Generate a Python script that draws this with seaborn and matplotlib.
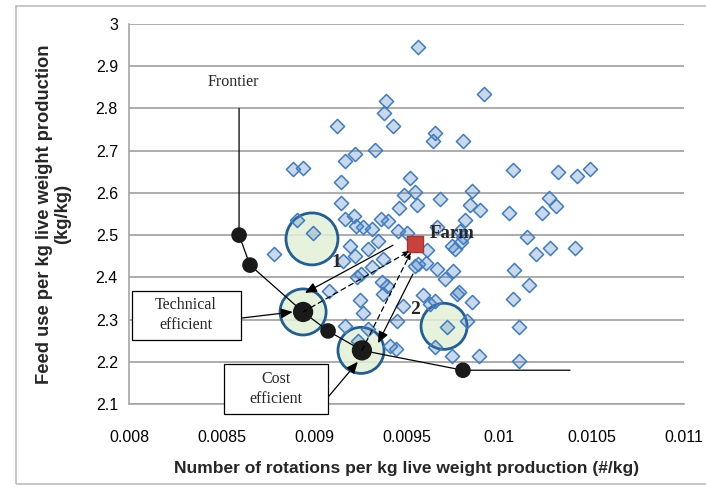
import matplotlib
matplotlib.use("Agg")
import matplotlib.pyplot as plt
import seaborn as sns
import pandas as pd
from matplotlib.patches import Rectangle

# farms: rotations per kg live weight vs feed use per kg live weight
rot_x = [
    0.009562, 0.009919, 0.009389, 0.009378, 0.009124, 0.009427, 0.009654, 0.009643,
    0.009805, 0.009330, 0.009222, 0.009168, 0.010076, 0.009519, 0.009146, 0.009854,
    0.009486, 0.009546, 0.009681, 0.009146, 0.009557, 0.009843, 0.009459, 0.009897,
    0.010054, 0.009216, 0.009168, 0.009362, 0.009400, 0.009816, 0.008886, 0.008941,
    0.008908, 0.008995, 0.008784, 0.009081, 0.010319, 0.010422, 0.010492, 0.010270,
    0.010308, 0.010232, 0.010151, 0.010276, 0.010411, 0.010200, 0.010081, 0.010162,
    0.010076, 0.010108, 0.010108, 0.009265, 0.009227, 0.009314, 0.009454, 0.009665,
    0.009789, 0.009746, 0.009795, 0.009762, 0.009346, 0.009292, 0.009195, 0.009222,
    0.009157, 0.009373, 0.009314, 0.009254, 0.009232, 0.009562, 0.009605, 0.009665,
    0.009708, 0.009751, 0.009368, 0.009395, 0.009373, 0.009249, 0.009589, 0.009627,
    0.009654, 0.009773, 0.009784, 0.009854, 0.009481, 0.009265, 0.009449, 0.009827,
    0.009719, 0.009168, 0.009238, 0.009292, 0.009443, 0.009411, 0.009654, 0.009746,
    0.009892, 0.009503, 0.009805, 0.009611, 0.009546,
]
feed_y = [
    2.945, 2.834, 2.818, 2.789, 2.758, 2.758, 2.742, 2.723,
    2.723, 2.701, 2.692, 2.675, 2.654, 2.635, 2.626, 2.604,
    2.595, 2.602, 2.585, 2.576, 2.571, 2.571, 2.564, 2.559,
    2.552, 2.545, 2.538, 2.538, 2.533, 2.536, 2.656, 2.659,
    2.536, 2.505, 2.455, 2.367, 2.649, 2.640, 2.656, 2.588,
    2.569, 2.552, 2.495, 2.469, 2.469, 2.455, 2.417, 2.382,
    2.348, 2.282, 2.201, 2.519, 2.521, 2.514, 2.509, 2.519,
    2.509, 2.474, 2.483, 2.467, 2.486, 2.467, 2.474, 2.450,
    2.438, 2.443, 2.424, 2.408, 2.400, 2.431, 2.434, 2.419,
    2.396, 2.415, 2.389, 2.379, 2.360, 2.346, 2.358, 2.336,
    2.344, 2.360, 2.365, 2.341, 2.332, 2.315, 2.296, 2.296,
    2.282, 2.284, 2.249, 2.277, 2.230, 2.237, 2.235, 2.213,
    2.213, 2.505, 2.495, 2.464, 2.427,
]

# efficiency frontier (first and last entries are the open ends of the line)
frontier_x = [0.008595, 0.008595, 0.008654, 0.008941, 0.009076, 0.009259, 0.009805, 0.010384]
frontier_y = [2.800, 2.500, 2.429, 2.318, 2.273, 2.227, 2.180, 2.180]

tech_pt = (0.008941, 2.318)
cost_pt = (0.009259, 2.227)
farm_pt = (0.009546, 2.479)

circle_x = [0.008989, 0.008941, 0.009254, 0.009703]
circle_y = [2.491, 2.318, 2.227, 2.284]

x_ticks = [0.008, 0.0085, 0.009, 0.0095, 0.010, 0.0105, 0.011]
x_labels = ["0.008", "0.0085", "0.009", "0.0095", "0.01", "0.0105", "0.011"]
y_ticks = [2.1, 2.2, 2.3, 2.4, 2.5, 2.6, 2.7, 2.8, 2.9, 3.0]
y_labels = ["2.1", "2.2", "2.3", "2.4", "2.5", "2.6", "2.7", "2.8", "2.9", "3"]

sns.set_style("white")
sans = ["Liberation Sans", "DejaVu Sans"]
serif = ["Liberation Serif", "DejaVu Serif"]
plt.rcParams["font.family"] = sans

fig = plt.figure(figsize=(7.06, 4.96), dpi=100)
ax = fig.add_axes([129 / 706, 1 - 404 / 496, 555 / 706, 380 / 496])

# outer chart frame
fig.patches.append(Rectangle((16 / 706, 12 / 496), 700 / 706, 478 / 496,
                             transform=fig.transFigure, fill=False,
                             edgecolor="#BDBDBD", lw=1.2))

ax.set_xlim(0.008, 0.011)
ax.set_ylim(2.1, 3.0)
ax.set_yticks(y_ticks)
ax.set_yticklabels(y_labels)
ax.set_xticks(x_ticks)
ax.set_xticklabels(x_labels)
ax.yaxis.grid(True, color="#A6A6A6", lw=1.3)
ax.set_axisbelow(True)
for side in ["top", "right"]:
    ax.spines[side].set_visible(False)
for side in ["left", "bottom"]:
    ax.spines[side].set_color("#A6A6A6")
    ax.spines[side].set_linewidth(1.2)
ax.tick_params(axis="both", colors="#A6A6A6", labelcolor="black",
               length=4, width=1, labelsize=11.5, direction="out")
ax.tick_params(axis="x", pad=15)
ax.tick_params(axis="y", pad=4)

# highlighted circles
ax.scatter(circle_x, circle_y, s=[1400, 1100, 1100, 1100],
           facecolor=(0.89, 0.94, 0.84, 0.85), edgecolor="#1F5F95",
           linewidth=2.0, zorder=1.5)

df = pd.DataFrame({"rot": rot_x, "feed": feed_y})
sns.scatterplot(data=df, x="rot", y="feed", marker="D", s=52,
                color=(0.31, 0.51, 0.74, 0.30), edgecolor="#3D7BC4",
                linewidth=1.1, ax=ax, zorder=2)

# frontier
ax.plot(frontier_x, frontier_y, color="black", lw=0.9, zorder=3)
ax.scatter(frontier_x[1:-1], frontier_y[1:-1], s=[105, 105, 185, 105, 185, 105],
           color="#1A1A1A", zorder=4)

# farm
ax.scatter([farm_pt[0]], [farm_pt[1]], marker="s", s=135, color="#C8413C",
           edgecolor="#A83530", zorder=5)
ax.text(0.009627, 2.505, "Farm", family=serif, fontweight="bold", fontsize=13.5,
        ha="left", va="center", zorder=6)

solid = dict(arrowstyle="-|>,head_length=0.7,head_width=0.3", color="black",
             lw=0.9, shrinkA=0, shrinkB=0)
dashed = dict(arrowstyle="-|>,head_length=0.4,head_width=0.15", color="black",
              lw=0.9, ls=(0, (4, 3)), shrinkA=0, shrinkB=0)

# route 1 and 2
ax.annotate("", xy=(0.008951, 2.363), xytext=(0.009427, 2.476), arrowprops=solid, zorder=5)
ax.annotate("", xy=(0.009346, 2.244), xytext=(0.009535, 2.408), arrowprops=solid, zorder=5)
ax.annotate("", xy=(0.009520, 2.463), xytext=tech_pt, arrowprops=dashed, zorder=5)
ax.annotate("", xy=(0.009525, 2.460), xytext=cost_pt, arrowprops=dashed, zorder=5)
ax.text(0.009119, 2.436, "1", family=serif, fontweight="bold", fontsize=14,
        ha="center", va="center", zorder=6)
ax.text(0.009546, 2.325, "2", family=serif, fontweight="bold", fontsize=14,
        ha="center", va="center", zorder=6)

# labels
ax.text(0.008562, 2.862, "Frontier", family=serif, fontsize=11.5, ha="center", va="center")

ax.add_patch(Rectangle((0.0054, 0.168), 0.1964, 0.129, transform=ax.transAxes,
                       facecolor="white", edgecolor="black", lw=0.9, zorder=6))
ax.text(0.1027, 0.234, "Technical\nefficient", transform=ax.transAxes, family=serif,
        fontsize=11.5, ha="center", va="center", linespacing=1.3, zorder=7)
ax.annotate("", xy=(0.008885, 2.318), xytext=(0.2018, 0.226),
            xycoords="data", textcoords="axes fraction", arrowprops=solid, zorder=5)

ax.add_patch(Rectangle((0.171, -0.026), 0.1876, 0.131, transform=ax.transAxes,
                       facecolor="white", edgecolor="black", lw=0.9, zorder=6,
                       clip_on=False))
ax.text(0.265, 0.039, "Cost\nefficient", transform=ax.transAxes, family=serif,
        fontsize=11.5, ha="center", va="center", linespacing=1.3, zorder=7)
ax.annotate("", xy=(0.009237, 2.200), xytext=(0.3586, 0.018),
            xycoords="data", textcoords="axes fraction", arrowprops=solid, zorder=5)

ax.set_xlabel("Number of rotations per kg live weight production (#/kg)",
              fontsize=12.5, fontweight="bold", labelpad=11)
ax.set_ylabel("Feed use per kg live weight production\n(kg/kg)",
              fontsize=13.2, fontweight="bold", labelpad=18, linespacing=1.05)

fig.savefig("out.png", dpi=100)
